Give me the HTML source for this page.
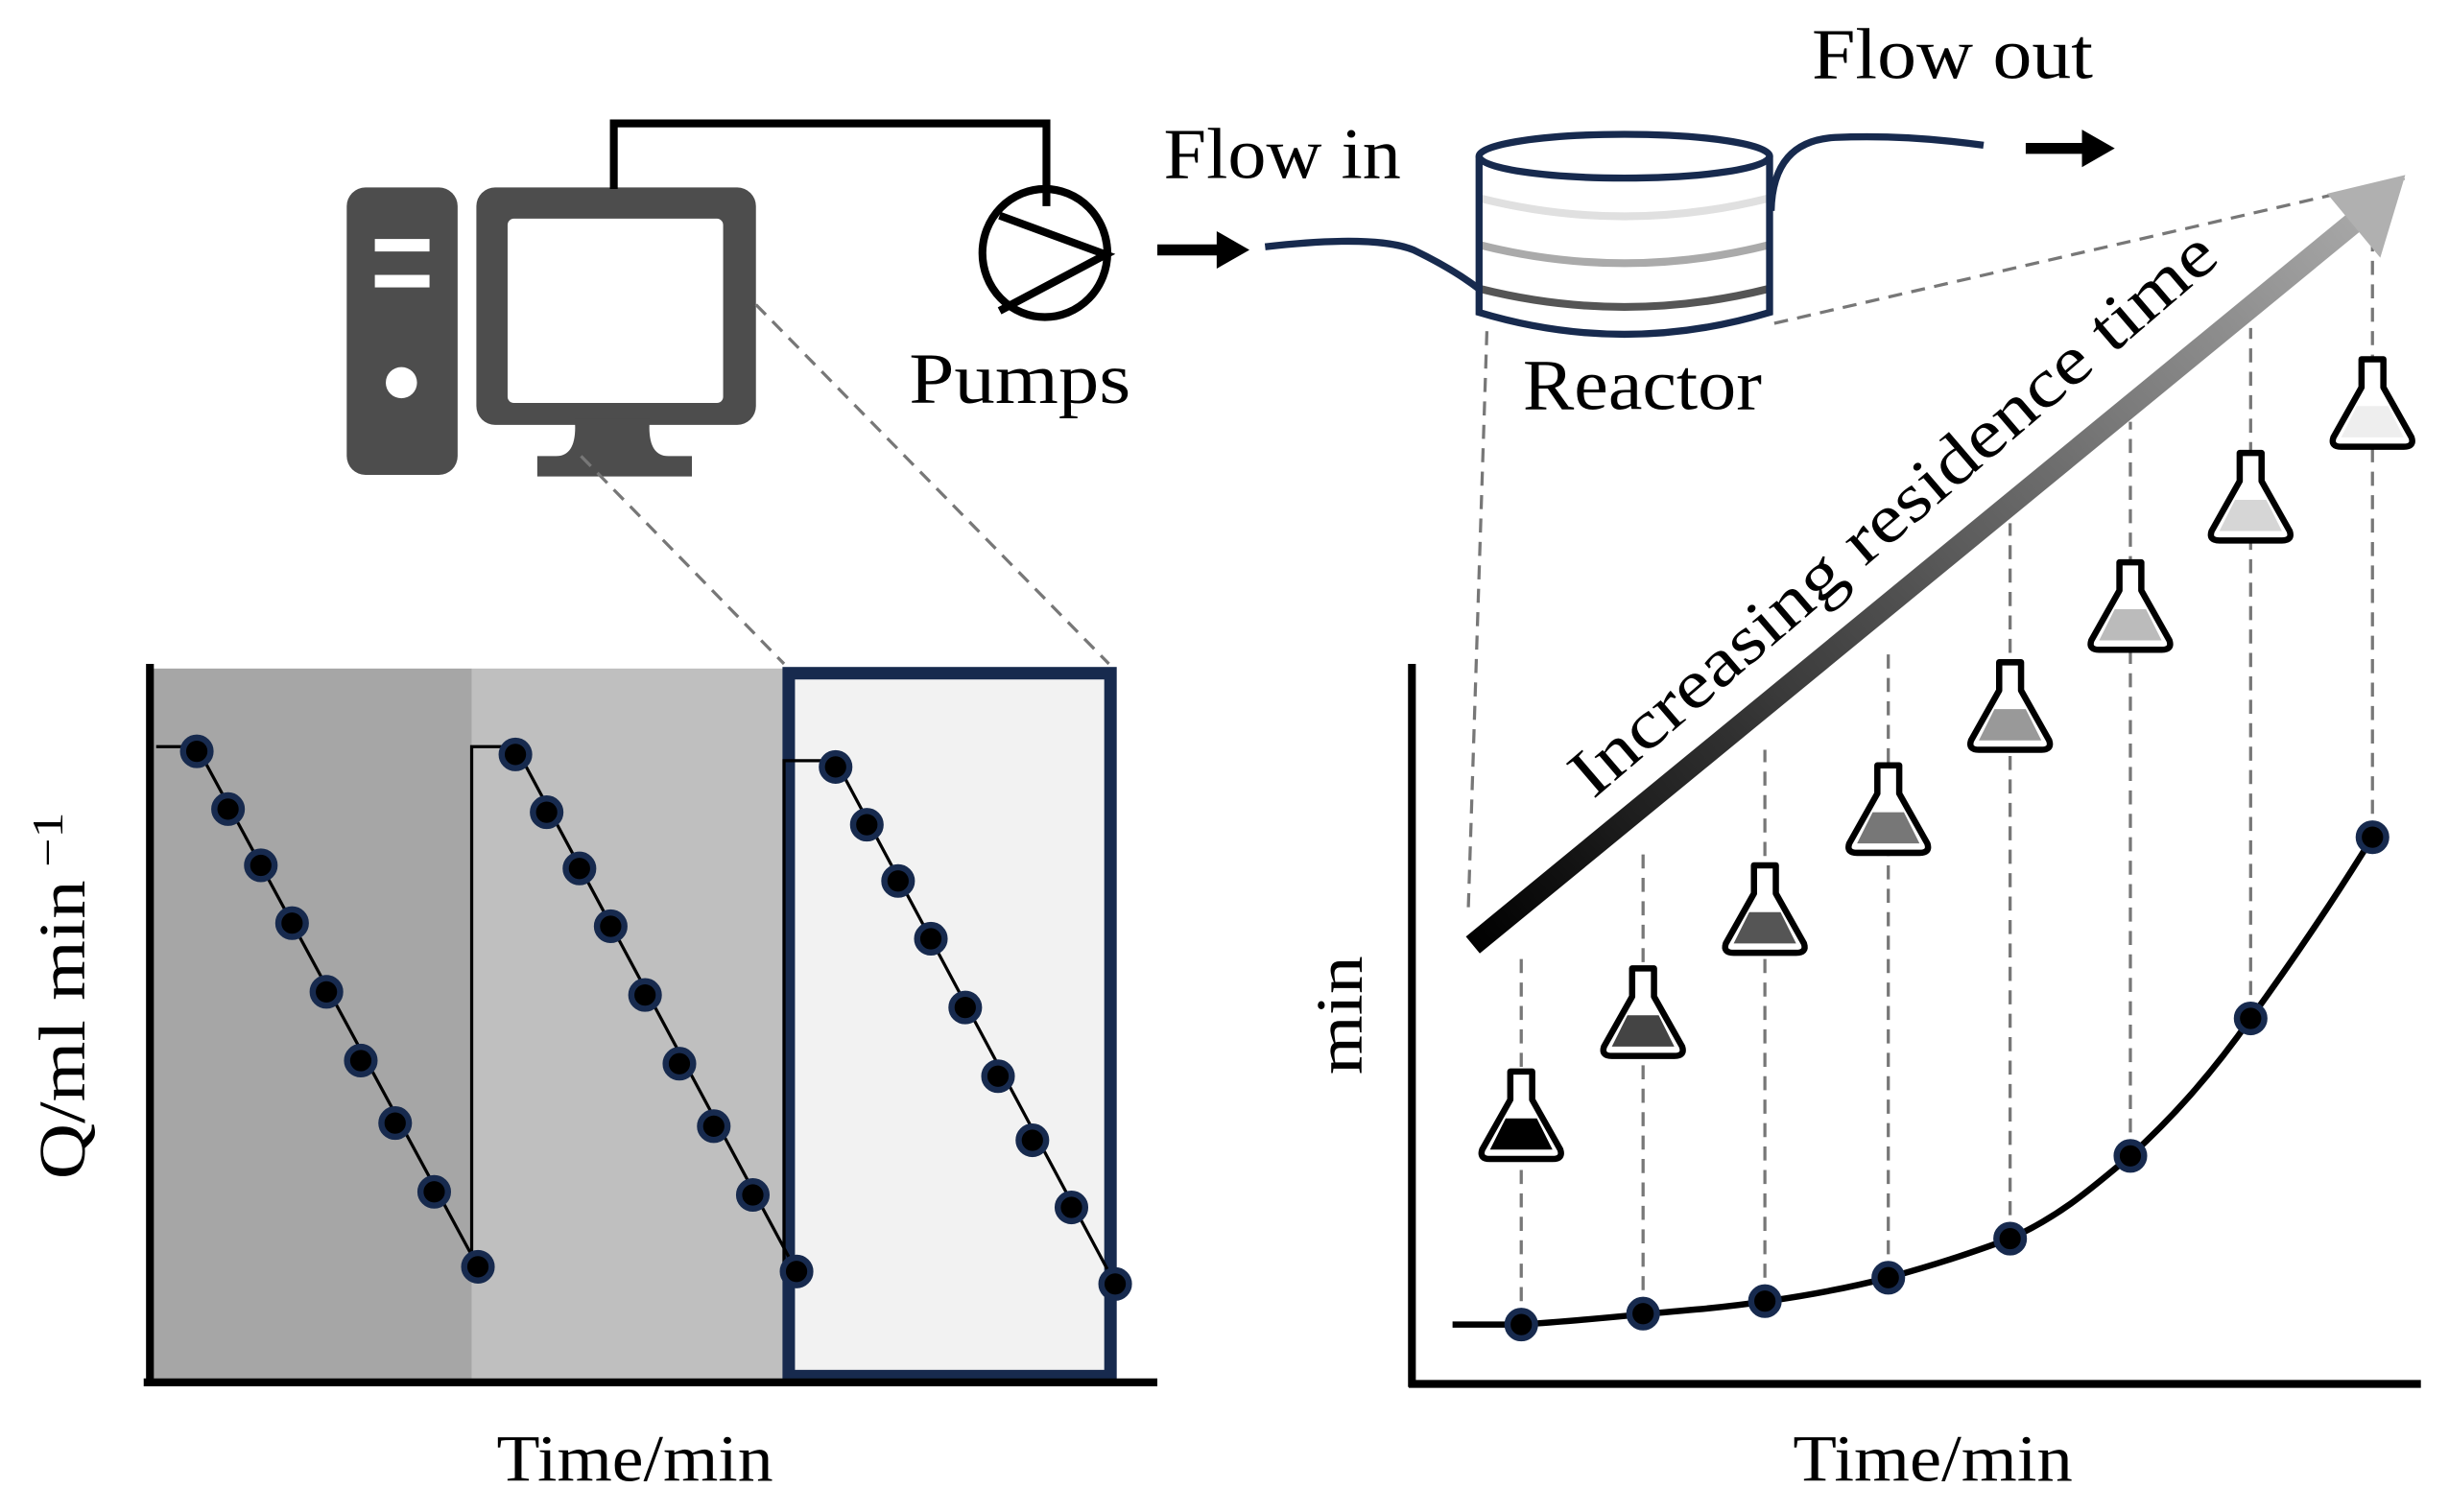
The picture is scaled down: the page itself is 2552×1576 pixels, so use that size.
<!DOCTYPE html>
<html><head><meta charset="utf-8"><style>html,body{margin:0;padding:0;background:#fff}svg{display:block}text{font-family:"Liberation Serif",serif;fill:#000}</style></head><body>
<svg width="2552" height="1576" viewBox="0 0 1568 968" preserveAspectRatio="none" xmlns="http://www.w3.org/2000/svg">
<defs>
<linearGradient id="ag" x1="943" y1="605" x2="1540" y2="113" gradientUnits="userSpaceOnUse"><stop offset="0" stop-color="#000"/><stop offset="1" stop-color="#b0b0b0"/></linearGradient>
<symbol id="dot" viewBox="-10 -10 20 20"><circle r="8" fill="#000" stroke="#172a4e" stroke-width="3.6"/></symbol>
</defs>
<!-- computer -->
<rect x="222" y="120" width="71" height="184" rx="12" fill="#4d4d4d"/>
<rect x="240" y="153" width="35" height="8" fill="#fff"/>
<rect x="240" y="176" width="35" height="8" fill="#fff"/>
<circle cx="257" cy="245" r="10" fill="#fff"/>
<rect x="305" y="120" width="179" height="152" rx="12" fill="#4d4d4d"/>
<rect x="325" y="140" width="138" height="118" rx="4" fill="#fff"/>
<path d="M368 268 Q370 292 356 292 L344 292 L344 305 L443 305 L443 292 L428 292 Q414 292 416 268 Z" fill="#4d4d4d"/>
<path d="M393 121 V79 H670 V132" fill="none" stroke="#000" stroke-width="5"/>
<ellipse cx="669" cy="162" rx="40" ry="41" fill="none" stroke="#000" stroke-width="5"/>
<path d="M640 138 L708 163 L640 199" fill="none" stroke="#000" stroke-width="5"/>
<text x="582" y="258" font-size="46" textLength="142" lengthAdjust="spacingAndGlyphs">Pumps</text>
<text x="745" y="114" font-size="46" textLength="152" lengthAdjust="spacingAndGlyphs">Flow in</text>
<text x="1160" y="50" font-size="46" textLength="180" lengthAdjust="spacingAndGlyphs">Flow out</text>
<text x="975" y="262" font-size="46" textLength="153" lengthAdjust="spacingAndGlyphs">Reactor</text>
<path d="M741 160 H782" stroke="#000" stroke-width="7"/><path d="M779 148 L800 160 L779 172 Z"/>
<path d="M1297 95 H1336" stroke="#000" stroke-width="7"/><path d="M1333 83 L1354 95 L1333 107 Z"/>
<!-- dashed guides -->
<g stroke="#777" stroke-width="2" stroke-dasharray="9 6" fill="none">
<path d="M484 195 L710 425"/><path d="M372 292 L502 425"/>
<path d="M1136 207 L1540 114"/><path d="M952 212 L940 585"/>
<path d="M974 848 V610"/><path d="M1052 841 V545"/><path d="M1130 833 V480"/><path d="M1209 818 V415"/><path d="M1287 793 V335"/><path d="M1364 740 V270"/><path d="M1441 652 V210"/><path d="M1519 536 V140"/>
</g>
<!-- reactor -->
<g fill="none" stroke-width="5">
<path d="M948 127 Q1040 150 1132 127" stroke="#e0e0e0"/>
<path d="M948 157 Q1040 180 1132 157" stroke="#aaa"/>
<path d="M948 185 Q1040 208 1132 185" stroke="#555"/>
</g>
<g fill="none" stroke="#172a4e" stroke-width="4.5">
<ellipse cx="1040" cy="100" rx="93" ry="14"/>
<path d="M947 100 V200 Q1040 228 1133 200 V100"/>
<path d="M810 158 Q880 150 905 160 Q930 172 947 185"/>
<path d="M1134 135 Q1135 90 1175 88 Q1220 86 1270 93"/>
</g>
<!-- big arrow -->
<path d="M943 605 L1510 140" stroke="url(#ag)" stroke-width="14"/>
<path d="M1540 112 L1524 165 L1490 124 Z" fill="#b0b0b0"/>
<text font-size="44" transform="translate(1020 512) rotate(-40.6)" textLength="530" lengthAdjust="spacingAndGlyphs">Increasing residence time</text>
<!-- flasks -->
<g stroke="#000" stroke-width="4" stroke-linejoin="round">
<g transform="translate(974 714)"><path d="M-7 -28 H7 V-10 L25 22 Q27 28 20 28 H-20 Q-27 28 -25 22 L-7 -10 Z" fill="#fff"/><path d="M-10 2 H10 L20 22 H-20 Z" fill="#000" stroke="none"/></g>
<g transform="translate(1052 648)"><path d="M-7 -28 H7 V-10 L25 22 Q27 28 20 28 H-20 Q-27 28 -25 22 L-7 -10 Z" fill="#fff"/><path d="M-10 2 H10 L20 22 H-20 Z" fill="#444" stroke="none"/></g>
<g transform="translate(1130 582)"><path d="M-7 -28 H7 V-10 L25 22 Q27 28 20 28 H-20 Q-27 28 -25 22 L-7 -10 Z" fill="#fff"/><path d="M-10 2 H10 L20 22 H-20 Z" fill="#555" stroke="none"/></g>
<g transform="translate(1209 518)"><path d="M-7 -28 H7 V-10 L25 22 Q27 28 20 28 H-20 Q-27 28 -25 22 L-7 -10 Z" fill="#fff"/><path d="M-10 2 H10 L20 22 H-20 Z" fill="#777" stroke="none"/></g>
<g transform="translate(1287 452)"><path d="M-7 -28 H7 V-10 L25 22 Q27 28 20 28 H-20 Q-27 28 -25 22 L-7 -10 Z" fill="#fff"/><path d="M-10 2 H10 L20 22 H-20 Z" fill="#999" stroke="none"/></g>
<g transform="translate(1364 388)"><path d="M-7 -28 H7 V-10 L25 22 Q27 28 20 28 H-20 Q-27 28 -25 22 L-7 -10 Z" fill="#fff"/><path d="M-10 2 H10 L20 22 H-20 Z" fill="#bbb" stroke="none"/></g>
<g transform="translate(1441 318)"><path d="M-7 -28 H7 V-10 L25 22 Q27 28 20 28 H-20 Q-27 28 -25 22 L-7 -10 Z" fill="#fff"/><path d="M-10 2 H10 L20 22 H-20 Z" fill="#d6d6d6" stroke="none"/></g>
<g transform="translate(1519 258)"><path d="M-7 -28 H7 V-10 L25 22 Q27 28 20 28 H-20 Q-27 28 -25 22 L-7 -10 Z" fill="#fff"/><path d="M-10 2 H10 L20 22 H-20 Z" fill="#eee" stroke="none"/></g>
</g>
<!-- left chart -->
<rect x="98" y="428" width="204" height="456" fill="#a6a6a6"/>
<rect x="302" y="428" width="200" height="456" fill="#bfbfbf"/>
<rect x="505" y="431" width="206" height="450" fill="#f2f2f2" stroke="#172a4e" stroke-width="8"/>
<g fill="none" stroke="#000" stroke-width="2">
<path d="M100 478 H126 L306 811"/>
<path d="M306 811 H302 V478 H330 L510 814"/>
<path d="M510 814 H502 V487 H535 L714 822"/>
</g>
<path d="M96 425 V887 M92 885 H741" stroke="#000" stroke-width="5" fill="none"/>
<g>
<use href="#dot" x="115" y="470" width="22" height="22"/><use href="#dot" x="135" y="507" width="22" height="22"/><use href="#dot" x="156" y="543" width="22" height="22"/><use href="#dot" x="176" y="580" width="22" height="22"/><use href="#dot" x="198" y="624" width="22" height="22"/><use href="#dot" x="220" y="668" width="22" height="22"/><use href="#dot" x="242" y="708" width="22" height="22"/><use href="#dot" x="267" y="752" width="22" height="22"/><use href="#dot" x="295" y="800" width="22" height="22"/>
<use href="#dot" x="319" y="472" width="22" height="22"/><use href="#dot" x="339" y="509" width="22" height="22"/><use href="#dot" x="360" y="545" width="22" height="22"/><use href="#dot" x="380" y="582" width="22" height="22"/><use href="#dot" x="402" y="626" width="22" height="22"/><use href="#dot" x="424" y="670" width="22" height="22"/><use href="#dot" x="446" y="710" width="22" height="22"/><use href="#dot" x="471" y="754" width="22" height="22"/><use href="#dot" x="499" y="803" width="22" height="22"/>
<use href="#dot" x="524" y="480" width="22" height="22"/><use href="#dot" x="544" y="517" width="22" height="22"/><use href="#dot" x="564" y="553" width="22" height="22"/><use href="#dot" x="585" y="590" width="22" height="22"/><use href="#dot" x="607" y="634" width="22" height="22"/><use href="#dot" x="628" y="678" width="22" height="22"/><use href="#dot" x="650" y="719" width="22" height="22"/><use href="#dot" x="675" y="762" width="22" height="22"/><use href="#dot" x="703" y="811" width="22" height="22"/>
</g>
<text font-size="42" transform="translate(54 755) rotate(-90)" textLength="235" lengthAdjust="spacingAndGlyphs">Q/ml min<tspan font-size="28" dy="-14"> −1</tspan></text>
<text x="318" y="948" font-size="42" textLength="177" lengthAdjust="spacingAndGlyphs">Time/min</text>
<!-- right chart -->
<path d="M904 425 V888 M902 886 H1550" stroke="#000" stroke-width="5" fill="none"/>
<path d="M930 848 L974 848 C1020 845 1052 841 1090 838 C1130 834 1170 828 1209 818 C1245 808 1265 801 1287 793 C1320 778 1340 760 1364 740 C1395 712 1420 682 1441 652 C1470 612 1495 575 1519 536" fill="none" stroke="#000" stroke-width="4"/>
<use href="#dot" x="963" y="837" width="22" height="22"/><use href="#dot" x="1041" y="830" width="22" height="22"/><use href="#dot" x="1119" y="822" width="22" height="22"/><use href="#dot" x="1198" y="807" width="22" height="22"/><use href="#dot" x="1276" y="782" width="22" height="22"/><use href="#dot" x="1353" y="729" width="22" height="22"/><use href="#dot" x="1430" y="641" width="22" height="22"/><use href="#dot" x="1508" y="525" width="22" height="22"/>
<text font-size="42" transform="translate(872 688) rotate(-90)" textLength="76" lengthAdjust="spacingAndGlyphs">min</text>
<text x="1148" y="948" font-size="42" textLength="179" lengthAdjust="spacingAndGlyphs">Time/min</text>
</svg>
</body></html>
